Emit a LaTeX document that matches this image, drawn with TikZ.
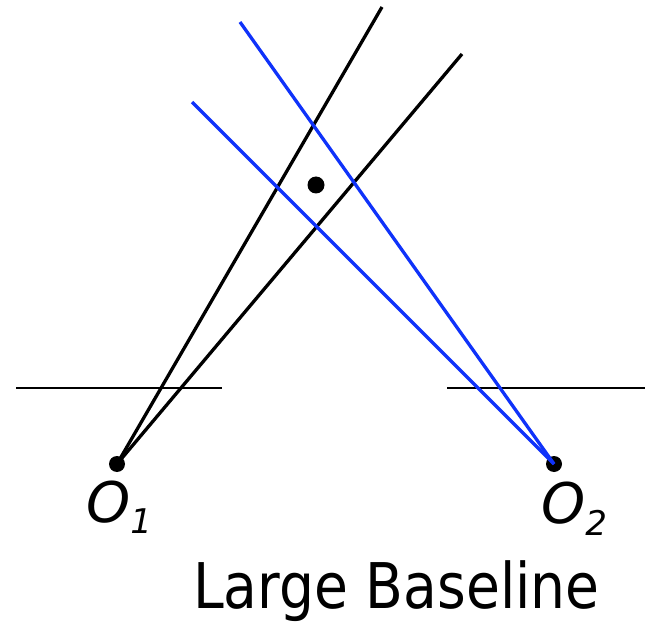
\documentclass[tikz,border=0pt]{standalone}
\usepackage{fontspec}
\setmainfont{DejaVu Sans}
\definecolor{rayblue}{RGB}{15,50,250}
\begin{document}
\begin{tikzpicture}[x=1pt,y=-1pt,
  dot/.style={circle,fill=black,inner sep=0pt,minimum size=16pt},
  ray/.style={line width=3.3pt},
  blueray/.style={line width=3.3pt,draw=rayblue},
  plane/.style={line width=2pt},
  lbl/.style={inner sep=0pt,anchor=base west}]
\useasboundingbox (0,0) rectangle (646,623);
% image planes
\coordinate (l1) at (16,388); \coordinate (l2) at (222,388);
\coordinate (r1) at (447,388); \coordinate (r2) at (645,388);
\draw[plane] (l1) -- (l2);
\draw[plane] (r1) -- (r2);
% centres
\node[dot] (o1) at (117,464) {};
\node[dot] (o2) at (554,464) {};
\node[dot,minimum size=17pt] (p) at (316,185) {};
% ray ends
\coordinate (a1) at (382,7);
\coordinate (a2) at (462,54);
\coordinate (b1) at (240,22);
\coordinate (b2) at (192,102);
\draw[ray] (o1.center) -- (a1);
\draw[ray] (o1.center) -- (a2);
\draw[blueray] (o2.center) -- (b1);
\draw[blueray] (o2.center) -- (b2);
% labels
\node[lbl] (t1) at (86,522) {\fontsize{56}{56}\selectfont\itshape O\raisebox{-11pt}{\fontsize{34}{34}\selectfont 1}};
\node[lbl] (t2) at (541,523) {\fontsize{56}{56}\selectfont\itshape O\raisebox{-12pt}{\fontsize{34}{34}\selectfont 2}};
\node[lbl] (cap) at (193,608) {\scalebox{0.875}[1]{\fontsize{63}{63}\selectfont Large Baseline}};
\end{tikzpicture}
\end{document}
